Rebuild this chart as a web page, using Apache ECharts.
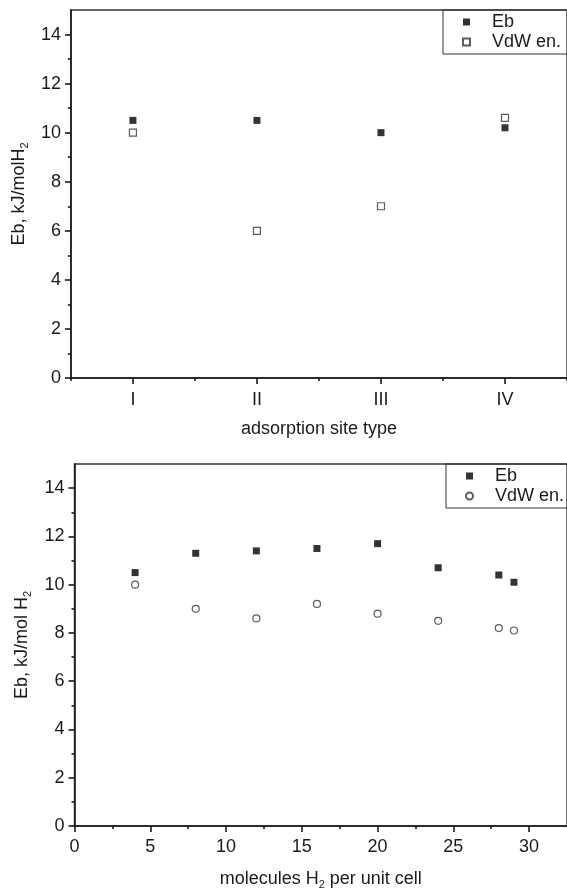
<!DOCTYPE html>
<html>
<head>
<meta charset="UTF-8">
<title>Eb vs site type / H2 loading</title>
<script src="https://cdn.jsdelivr.net/npm/echarts@6/dist/echarts.min.js"></script>
<style>
html, body { margin: 0; padding: 0; background: #fff; }
#chart { width: 567px; height: 891px; }
</style>
</head>
<body>
<div id="chart"></div>
<script type="text/javascript">
// top panel: adsorption site type
var siteTypes = ['I', 'II', 'III', 'IV'];
var siteEb = [10.5, 10.5, 10.0, 10.2];
var siteVdw = [10.0, 6.0, 7.0, 10.6];

// bottom panel: molecules H2 per unit cell
var molecules = [4, 8, 12, 16, 20, 24, 28, 29];
var molEb = [10.5, 11.3, 11.4, 11.5, 11.7, 10.7, 10.4, 10.1];
var molVdw = [10.0, 9.0, 8.6, 9.2, 8.8, 8.5, 8.2, 8.1];

// tick values
var yTicks = [0, 2, 4, 6, 8, 10, 12, 14];
var yMinorTicks = [1, 3, 5, 7, 9, 11, 13];
var xTicks = [0, 5, 10, 15, 20, 25, 30];
var xMinorTicks = [2.5, 7.5, 12.5, 17.5, 22.5, 27.5];

var font = "'Liberation Sans', Arial, sans-serif";
var ink = '#1a1a1a';

var lineStyle = { color: ink, width: 1.6 };
var labelStyle = { color: ink, fontSize: 18, fontFamily: font };
var nameStyle = {
	color: ink, fontSize: 18, fontFamily: font, lineHeight: 22,
	rich: {
		sub: { fontSize: 11, fontFamily: font, color: ink, verticalAlign: 'bottom', lineHeight: 11 }
	}
};

function yMain(grid, name, gap) {
	return {
		type: 'value', gridIndex: grid, min: 0, max: 15, position: 'left',
		name: name, nameLocation: 'middle', nameGap: gap, nameTextStyle: nameStyle,
		axisLine: { show: true, lineStyle: lineStyle },
		axisTick: { show: true, length: 6, customValues: yTicks, lineStyle: lineStyle },
		axisLabel: { show: true, margin: 10, customValues: yTicks, textStyle: labelStyle },
		splitLine: { show: false }
	};
}
function yMinor(grid) {
	return {
		type: 'value', gridIndex: grid, min: 0, max: 15, position: 'left',
		axisLine: { show: false },
		axisTick: { show: true, length: 3, customValues: yMinorTicks, lineStyle: lineStyle },
		axisLabel: { show: false },
		splitLine: { show: false }
	};
}

var option = {
	backgroundColor: '#fff',
	animation: false,
	grid: [
		{ left: 69, top: 10, width: 500, height: 368, show: true, borderColor: '#333', borderWidth: 1.4 },
		{ left: 74.5, top: 464, width: 494, height: 365, show: true, borderColor: '#333', borderWidth: 1.4 }
	],
	legend: [
		{
			left: 443, top: 10, orient: 'vertical', itemGap: 2,
			itemWidth: 7, itemHeight: 7,
			padding: [3, 40, 3, 19],
			borderColor: '#333', borderWidth: 1,
			selectedMode: false,
			textStyle: { color: ink, fontSize: 18, fontFamily: font, padding: [0, 0, 0, 17] },
			data: [{ name: 'Eb', icon: 'rect' }, { name: 'VdW en.', icon: 'rect' }]
		},
		{
			left: 446, top: 464, orient: 'vertical', itemGap: 2,
			itemWidth: 7, itemHeight: 7,
			padding: [3, 40, 3, 19],
			borderColor: '#333', borderWidth: 1,
			selectedMode: false,
			formatter: function(n) { return n.trim(); },
			textStyle: { color: ink, fontSize: 18, fontFamily: font, padding: [0, 0, 0, 17] },
			data: [{ name: 'Eb ', icon: 'rect' }, { name: 'VdW en. ', icon: 'circle' }]
		}
	],
	xAxis: [
		{
			type: 'category', gridIndex: 0, data: siteTypes, position: 'bottom',
			name: 'adsorption site type', nameLocation: 'middle', nameGap: 40, nameTextStyle: nameStyle,
			axisLine: { show: true, lineStyle: lineStyle },
			axisTick: { show: true, alignWithLabel: true, length: 6, lineStyle: lineStyle },
			axisLabel: { show: true, margin: 13, textStyle: labelStyle },
			splitLine: { show: false }
		},
		{
			type: 'category', gridIndex: 0, data: siteTypes, position: 'bottom',
			axisLine: { show: false },
			axisTick: { show: true, length: 3, lineStyle: lineStyle },
			axisLabel: { show: false },
			splitLine: { show: false }
		},
		{
			type: 'value', gridIndex: 1, min: 0, max: 32.5, position: 'bottom',
			name: 'molecules H{sub|2} per unit cell', nameLocation: 'middle', nameGap: 42, nameTextStyle: nameStyle,
			axisLine: { show: true, lineStyle: lineStyle },
			axisTick: { show: true, length: 6, customValues: xTicks, lineStyle: lineStyle },
			axisLabel: { show: true, margin: 12, customValues: xTicks, textStyle: labelStyle },
			splitLine: { show: false }
		},
		{
			type: 'value', gridIndex: 1, min: 0, max: 32.5, position: 'bottom',
			axisLine: { show: false },
			axisTick: { show: true, length: 3, customValues: xMinorTicks, lineStyle: lineStyle },
			axisLabel: { show: false },
			splitLine: { show: false }
		}
	],
	yAxis: [
		yMain(0, 'Eb, kJ/molH{sub|2}', 37),
		yMinor(0),
		yMain(1, 'Eb, kJ/mol H{sub|2}', 41),
		yMinor(1)
	],
	series: [
		{
			name: 'Eb', type: 'scatter', xAxisIndex: 0, yAxisIndex: 0,
			symbol: 'rect', symbolSize: 7,
			itemStyle: { color: '#000', borderColor: '#000', borderWidth: 0 },
			data: siteEb
		},
		{
			name: 'VdW en.', type: 'scatter', xAxisIndex: 0, yAxisIndex: 0,
			symbol: 'rect', symbolSize: 7,
			itemStyle: { color: '#fff', borderColor: '#333', borderWidth: 1.2 },
			data: siteVdw
		},
		{
			name: 'Eb ', type: 'scatter', xAxisIndex: 2, yAxisIndex: 2,
			symbol: 'rect', symbolSize: 7,
			itemStyle: { color: '#000', borderColor: '#000', borderWidth: 0 },
			data: molecules.map(function(x, i) { return [x, molEb[i]]; })
		},
		{
			name: 'VdW en. ', type: 'scatter', xAxisIndex: 2, yAxisIndex: 2,
			symbol: 'circle', symbolSize: 7,
			itemStyle: { color: '#fff', borderColor: '#333', borderWidth: 1.2 },
			data: molecules.map(function(x, i) { return [x, molVdw[i]]; })
		}
	]
};

var myChart = echarts.init(document.getElementById('chart'), null, { renderer: 'canvas' });
myChart.setOption(option);
</script>
</body>
</html>
